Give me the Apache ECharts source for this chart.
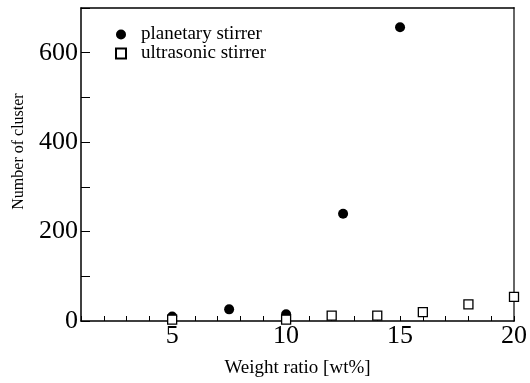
<!DOCTYPE html>
<html>
<head>
<meta charset="utf-8">
<script src="https://cdn.jsdelivr.net/npm/echarts@6/dist/echarts.min.js"></script>
<style>
  html, body { margin: 0; padding: 0; background: #fff; }
  #chart { width: 530px; height: 383px; }
</style>
</head>
<body>
<div id="chart"></div>
<script>
// planetary stirrer (filled circles)
const planetaryX = [5, 7.5, 10, 12.5, 15]
const planetaryY = [10, 26, 15, 240, 657]
// ultrasonic stirrer (open squares)
const ultrasonicX = [5, 10, 12, 14, 16, 18, 20]
const ultrasonicY = [3, 3, 12, 12, 20, 37, 54]

const xLabels = [5, 10, 15, 20]
const yLabels = [0, 200, 400, 600]

const font = 'Liberation Serif'

let chart = echarts.init(document.getElementById('chart'))

function pairs(xs, ys) {
  return xs.map((x, i) => [x, ys[i]])
}

chart.setOption({
  animation: false,
  grid: { left: 81, right: 10, top: 8, bottom: 61 },
  legend: {
    orient: 'vertical',
    left: 110,
    top: 20,
    itemWidth: 10,
    itemHeight: 10,
    itemGap: 0,
    textStyle: { fontFamily: font, fontSize: 19, color: '#000', padding: [0, 0, 0, 10] },
    data: [
      { name: 'planetary stirrer', icon: 'circle' },
      { name: 'ultrasonic stirrer', icon: 'rect' }
    ]
  },
  xAxis: [{
    type: 'value',
    min: 1,
    max: 20,
    interval: 1,
    name: 'Weight ratio [wt%]',
    nameLocation: 'middle',
    nameGap: 38,
    nameTextStyle: { fontFamily: font, fontSize: 19, color: '#000' },
    axisLine: { lineStyle: { color: '#000', width: 1.5 } },
    axisTick: { inside: true, length: 5, lineStyle: { color: '#000' } },
    axisLabel: {
      fontFamily: font, fontSize: 26, color: '#000', margin: 2,
      formatter: v => xLabels.includes(v) ? String(v) : ''
    },
    splitLine: { show: false }
  }, {
    type: 'value',
    position: 'top',
    min: 1,
    max: 20,
    axisLine: { show: true, onZero: false, lineStyle: { color: '#000', width: 1.5 } },
    axisTick: { show: false },
    axisLabel: { show: false },
    splitLine: { show: false }
  }],
  yAxis: [{
    type: 'value',
    min: 0,
    max: 700,
    interval: 100,
    name: 'Number of cluster',
    nameLocation: 'middle',
    nameGap: 54,
    nameTextStyle: { fontFamily: font, fontSize: 16, color: '#000', padding: [0, 0, 0, 26] },
    axisLine: { show: true, lineStyle: { color: '#000', width: 1.5 } },
    axisTick: { inside: true, length: 9, lineStyle: { color: '#000' } },
    axisLabel: {
      fontFamily: font, fontSize: 26, color: '#000', margin: 3,
      formatter: v => yLabels.includes(v) ? String(v) : ''
    },
    splitLine: { show: false }
  }, {
    type: 'value',
    position: 'right',
    min: 0,
    max: 700,
    axisLine: { show: true, onZero: false, lineStyle: { color: '#666', width: 2 } },
    axisTick: { show: false },
    axisLabel: { show: false },
    splitLine: { show: false }
  }],
  series: [{
    name: 'planetary stirrer',
    type: 'scatter',
    symbol: 'circle',
    symbolSize: 10,
    itemStyle: { color: '#000', opacity: 1 },
    data: pairs(planetaryX, planetaryY)
  }, {
    name: 'ultrasonic stirrer',
    type: 'scatter',
    symbol: 'rect',
    symbolSize: 9,
    itemStyle: { color: '#fff', borderColor: '#000', borderWidth: 1.3, opacity: 1 },
    data: pairs(ultrasonicX, ultrasonicY)
  }]
})
</script>
</body>
</html>
